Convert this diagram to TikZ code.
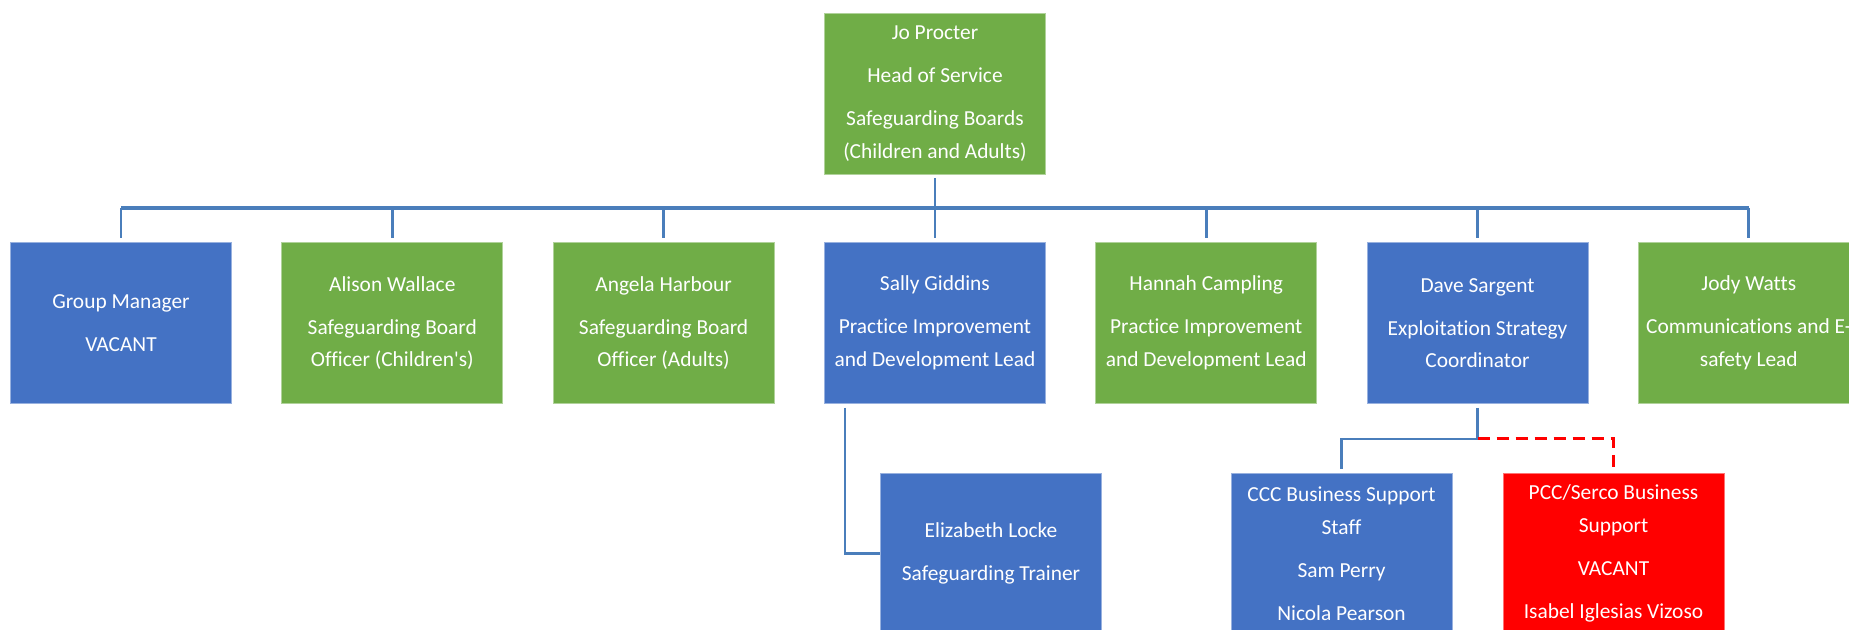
\documentclass[tikz,border=0pt]{standalone}
\usepackage{fontspec}
\setmainfont{Carlito}[Ligatures=NoCommon]
\definecolor{boxblue}{HTML}{4472C4}
\definecolor{boxgreen}{HTML}{70AD47}
\definecolor{boxred}{HTML}{FF0000}
\definecolor{linkblue}{HTML}{4A7EBB}
\begin{document}
\begin{tikzpicture}[x=0.5pt,y=-0.5pt,
  orgbox/.style={minimum width=110.5pt, minimum height=80.5pt, inner sep=0pt,
    align=center, text=white, line width=0.4pt,
    font=\fontsize{10.7}{16.3}\selectfont},
  bluebox/.style={orgbox, fill=boxblue, draw=boxblue!55!white},
  greenbox/.style={orgbox, fill=boxgreen, draw=boxgreen!55!white},
  redbox/.style={orgbox, fill=boxred, draw=boxred!55!white},
  link/.style={draw=linkblue, line width=1.4pt},
  buslink/.style={draw=linkblue, line width=2pt},
  dashlink/.style={draw=boxred, line width=1.5pt, dash pattern=on 6pt off 3.5pt}
]
\useasboundingbox (0,0) rectangle (1849,630);
\fill[white] (0,0) rectangle (1849,630);
\clip (0,0) rectangle (1849,630);

% top
\node[greenbox] (top) at (935,93.5) {Jo Procter\\[5.2pt]Head of Service\\[5.2pt]Safeguarding Boards\\(Children and Adults)};

% row 1
\node[bluebox]  (gm)     at (121,323)    {Group Manager\\[5.2pt]VACANT};
\node[greenbox] (alison) at (392.3,323)  {Alison Wallace\\[5.2pt]Safeguarding Board\\Officer (Children\textquotesingle s)};
\node[greenbox] (angela) at (663.6,323)  {Angela Harbour\\[5.2pt]Safeguarding Board\\Officer (Adults)};
\node[bluebox]  (sally)  at (934.9,323)  {Sally Giddins\\[5.2pt]Practice Improvement\\and Development Lead};
\node[greenbox] (hannah) at (1206.2,323) {Hannah Campling\\[5.2pt]Practice Improvement\\and Development Lead};
\node[bluebox]  (dave)   at (1477.5,323) {Dave Sargent\\[5.2pt]Exploitation Strategy\\Coordinator};
\node[greenbox] (jody)   at (1748.8,323) {Jody Watts\\[5.2pt]Communications and E-\\safety Lead};

% row 2
\node[bluebox] (eliz) at (991,553.5)   {Elizabeth Locke\\[5.2pt]Safeguarding Trainer};
\node[bluebox] (ccc)  at (1341.5,553.5) {CCC Business Support\\Staff\\[5.2pt]Sam Perry\\[5.2pt]Nicola Pearson};
\node[redbox]  (pcc)  at (1613.5,553.5) {PCC/Serco Business\\Support\\[5.2pt]VACANT\\[5.2pt]Isabel Iglesias Vizoso};

% connectors from the head of service
\coordinate (bus) at (935,208);
\draw[link, shorten <=2pt] (top.south) -- (top.south |- bus);
\draw[buslink] (gm.north |- bus) -- (jody.north |- bus);
\foreach \n in {gm,alison,angela,sally,hannah,dave,jody}
  \draw[link, shorten >=2pt] (\n.north |- bus) -- (\n.north);

% Sally -> Elizabeth
\draw[link, shorten <=2pt] ([xshift=10.5pt]sally.south west) |- (eliz.west);

% Dave -> business support
\coordinate (split) at (1477.5,439);
\draw[link, shorten <=2pt, shorten >=2pt] (dave.south) -- (split) -| (ccc.north);
\draw[dashlink, shorten >=2pt] (split) -| (pcc.north);
\end{tikzpicture}
\end{document}
